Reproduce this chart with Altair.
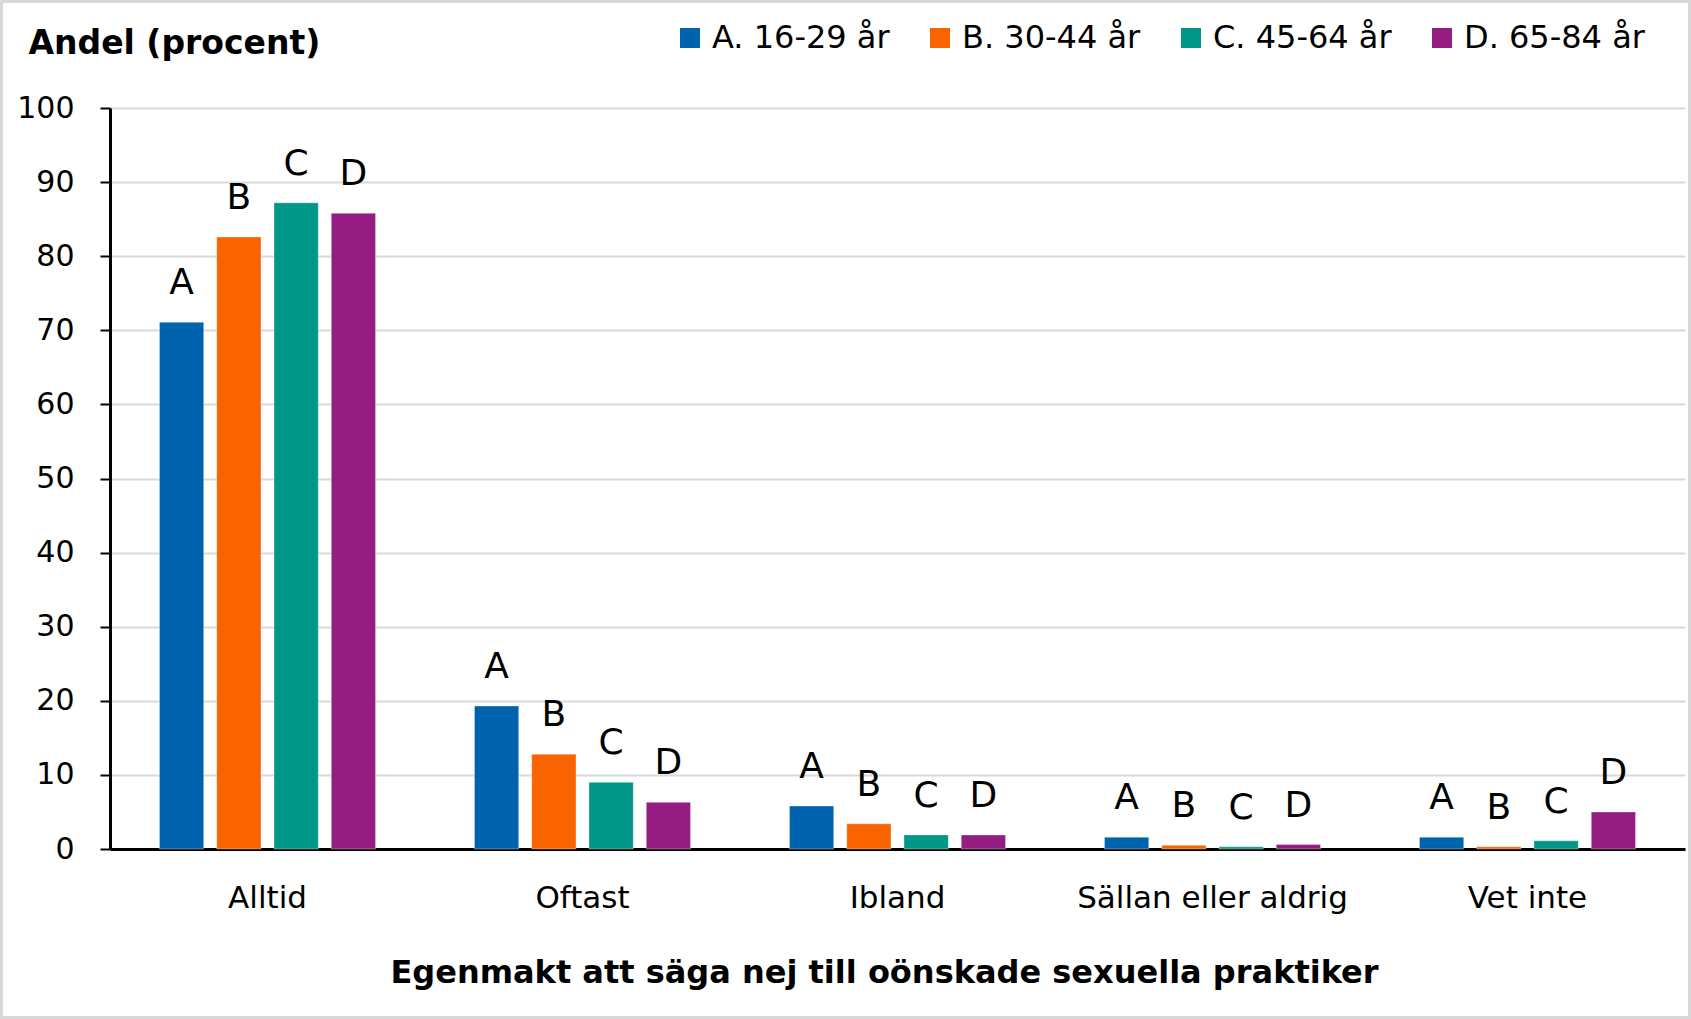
import altair as alt
import pandas as pd

# Response categories (x axis) and age groups (series)
categories = ["Alltid", "Oftast", "Ibland", "Sällan eller aldrig", "Vet inte"]
groups = ["A. 16-29 år", "B. 30-44 år", "C. 45-64 år", "D. 65-84 år"]
letters = ["A", "B", "C", "D"]
colors = ["#0063ad", "#f96400", "#009688", "#951c80"]

# Share (percent) per age group, in category order
values_a = [71.1, 19.3, 5.8, 1.6, 1.6]
values_b = [82.6, 12.8, 3.4, 0.5, 0.3]
values_c = [87.2, 9.0, 1.9, 0.3, 1.1]
values_d = [85.8, 6.3, 1.9, 0.6, 5.0]

series = [values_a, values_b, values_c, values_d]
rows = []
for g, letter, vals in zip(groups, letters, series):
    for cat, v in zip(categories, vals):
        rows.append({"kategori": cat, "grupp": g, "bokstav": letter, "andel": v})
df = pd.DataFrame(rows)

FONT = "DejaVu Sans"
W, H = 1575, 741

x_enc = alt.X(
    "kategori:N",
    sort=categories,
    scale=alt.Scale(paddingInner=0.314, paddingOuter=0.157),
    axis=alt.Axis(
        title="Egenmakt att säga nej till oönskade sexuella praktiker",
        titleFontSize=32,
        titleFontWeight="bold",
        titleFont=FONT,
        titleColor="black",
        titlePadding=44,
        titleX=774,
        labelAngle=0,
        labelFontSize=31,
        labelFont=FONT,
        labelColor="black",
        labelPadding=34,
        labelLimit=0,
        ticks=False,
        domainColor="black",
        domainWidth=3,
        grid=False,
    ),
)
xoff_enc = alt.XOffset(
    "grupp:N", sort=groups, scale=alt.Scale(paddingInner=0.227, paddingOuter=0)
)
y_enc = alt.Y(
    "andel:Q",
    scale=alt.Scale(domain=[0, 100], nice=False),
    axis=alt.Axis(
        values=list(range(0, 101, 10)),
        title="Andel (procent)",
        titleAngle=0,
        titleAlign="left",
        titleBaseline="middle",
        titleX=-82,
        titleY=-65,
        titleFontSize=33,
        titleFontWeight="bold",
        titleFont=FONT,
        titleColor="black",
        labelFontSize=30,
        labelFont=FONT,
        labelColor="black",
        labelPadding=26,
        tickColor="black",
        tickWidth=2,
        tickSize=10,
        domainColor="black",
        domainWidth=3,
        grid=True,
        gridColor="#d9d9d9",
        gridWidth=2,
    ),
)

bars = alt.Chart(df).mark_bar(stroke="white", strokeOpacity=0.35, strokeWidth=1).encode(
    x=x_enc,
    xOffset=xoff_enc,
    y=y_enc,
    color=alt.Color(
        "grupp:N",
        sort=groups,
        scale=alt.Scale(domain=groups, range=colors),
        legend=alt.Legend(
            title=None,
            orient="none",
            direction="horizontal",
            legendX=564,
            legendY=-86,
            symbolType="square",
            symbolSize=400,
            symbolStrokeWidth=0,
            labelFontSize=32,
            labelFont=FONT,
            labelColor="black",
            labelOffset=6,
            labelLimit=0,
            columnPadding=34,
        ),
    ),
)

labels = alt.Chart(df).mark_text(
    fontSize=36, font=FONT, color="black", baseline="alphabetic", dy=-28
).encode(
    x=alt.X("kategori:N", sort=categories),
    xOffset=alt.XOffset("grupp:N", sort=groups),
    y="andel:Q",
    text="bokstav:N",
)

# Light grey frame around the whole figure
frame = alt.Chart(alt.Data(values=[{}])).mark_rect(
    fill="transparent", stroke="#d9d9d9", strokeWidth=3
).encode(
    x=alt.value(-108.5), x2=alt.value(W + 4.5), y=alt.value(-106.5), y2=alt.value(H + 168.5)
)

chart = (
    alt.layer(bars, labels, frame)
    .properties(
        width=W,
        height=H,
        padding={"left": 110, "top": 108, "right": 6, "bottom": 170},
        autosize=alt.AutoSizeParams(type="none"),
        background="white",
    )
    .configure_view(stroke=None)
)

chart.save("out.html", embed_options={"renderer": "svg", "actions": False})
